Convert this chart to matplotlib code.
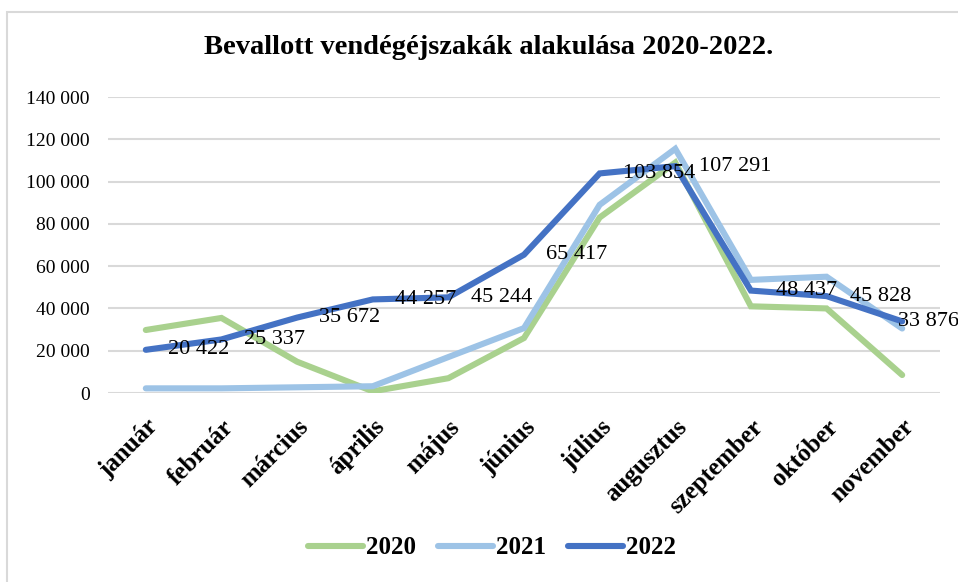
import matplotlib.pyplot as plt
import numpy as np
from matplotlib.patches import Rectangle

# data
months = ['január', 'február', 'március', 'április', 'május', 'június',
          'július', 'augusztus', 'szeptember', 'október', 'november']
v2020 = [29800, 35500, 14800, 800, 7000, 26000, 83000, 109000, 41000, 40000, 8500]
v2021 = [2200, 2200, 2700, 3200, 17000, 30700, 89000, 115500, 53500, 55000, 30500]
v2022 = [20422, 25337, 35672, 44257, 45244, 65417, 103854, 107291, 48437, 45828, 33876]
labels_2022 = ['20 422', '25 337', '35 672', '44 257', '45 244', '65 417',
               '103 854', '107 291', '48 437', '45 828', '33 876']
yticks = [0, 20000, 40000, 60000, 80000, 100000, 120000, 140000]
ytick_labels = ['0', '20 000', '40 000', '60 000', '80 000', '100 000', '120 000', '140 000']

GREEN = '#A9D18E'
LIGHT = '#9DC3E6'
DARK = '#4472C4'
GRID = '#D9D9D9'
LW = 4.4

plt.rcParams['font.family'] = ['Liberation Serif', 'DejaVu Serif']

fig = plt.figure(figsize=(9.58, 5.82), dpi=100)
ax = fig.add_axes([108/958, 1-393/582, (940-108)/958, (393-97)/582])

# chart border (cropped on right/bottom)
fig.patches.append(Rectangle((7/958, -0.1), 1.2, 1-12/582+0.1, transform=fig.transFigure,
                             fill=False, edgecolor=GRID, linewidth=1.5))

x = np.arange(len(months))
ax.plot(x, v2020, color=GREEN, lw=LW, label='2020', solid_capstyle='round', solid_joinstyle='miter', zorder=3)
ax.plot(x, v2021, color=LIGHT, lw=LW, label='2021', solid_capstyle='round', solid_joinstyle='miter', zorder=4)
ax.plot(x, v2022, color=DARK, lw=LW, label='2022', solid_capstyle='round', solid_joinstyle='miter', zorder=5)

# data labels to the right of each 2022 point (last one pulled left)
offsets = [16, 16, 16, 16, 16, 16, 17, 17, 18, 17, -3]
for i, (val, lab) in enumerate(zip(v2022, labels_2022)):
    ax.annotate(lab, (x[i], val), xytext=(offsets[i], 0), textcoords='offset points',
                ha='left', va='center', fontsize=16, color='black', zorder=6,
                annotation_clip=False)

ax.set_xlim(-0.5, len(months) - 0.5)
ax.set_ylim(0, 140000)
ax.set_yticks(yticks)
ax.set_yticklabels(ytick_labels, fontsize=14)
ax.set_xticks(x)
ax.set_xticklabels(months, rotation=45, ha='right', rotation_mode='anchor',
                   fontsize=18, fontweight='bold')
ax.tick_params(axis='both', length=0)
ax.tick_params(axis='y', pad=13)
ax.tick_params(axis='x', pad=16)
ax.grid(axis='y', color=GRID, lw=1.5)
ax.set_axisbelow(True)
for s in ax.spines.values():
    s.set_visible(False)

fig.suptitle('Bevallott vendégéjszakák alakulása 2020-2022.', x=489/958, y=1-48/582,
             va='center', fontsize=20.5, fontweight='bold')

fig.legend(loc='center', bbox_to_anchor=(492/958, 1-548/582), ncol=3, frameon=False,
           prop={'size': 18, 'weight': 'bold'}, handlelength=2.2, handletextpad=0.1,
           columnspacing=0.9)

fig.savefig('out.png', dpi=100)
